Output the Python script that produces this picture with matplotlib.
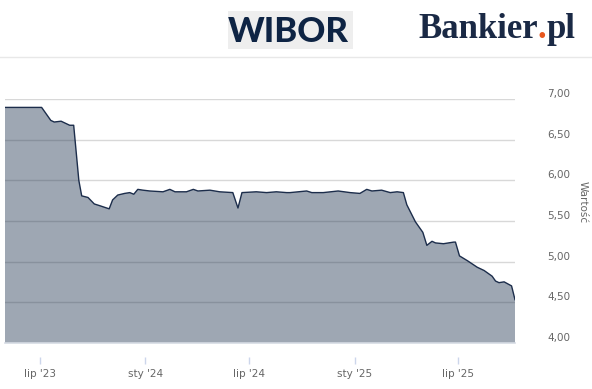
import matplotlib
matplotlib.use("Agg")
import matplotlib.pyplot as plt
from matplotlib.patches import Rectangle
from matplotlib.lines import Line2D
from matplotlib.transforms import ScaledTranslation
import pandas as pd

# WIBOR values
dates = ["2023-05-01", "2023-07-04", "2023-07-20", "2023-07-26", "2023-08-07", "2023-08-16",
         "2023-08-22", "2023-08-29", "2023-09-07", "2023-09-12", "2023-09-23", "2023-10-04",
         "2023-10-13", "2023-10-30", "2023-11-05", "2023-11-14", "2023-11-26", "2023-12-05",
         "2023-12-12", "2023-12-19", "2023-12-28", "2024-01-09", "2024-02-01", "2024-02-13",
         "2024-02-22", "2024-03-13", "2024-03-25", "2024-04-02", "2024-04-23", "2024-05-10",
         "2024-06-02", "2024-06-11", "2024-06-18", "2024-07-13", "2024-07-31", "2024-08-17",
         "2024-09-04", "2024-09-10", "2024-10-09", "2024-10-18", "2024-11-07", "2024-12-03",
         "2024-12-24", "2025-01-10", "2025-01-22", "2025-01-31", "2025-02-17", "2025-03-04",
         "2025-03-16", "2025-03-27", "2025-04-02", "2025-04-17", "2025-04-30", "2025-05-07",
         "2025-05-16", "2025-05-22", "2025-06-05", "2025-06-23", "2025-06-26", "2025-07-03",
         "2025-07-17", "2025-08-03", "2025-08-15", "2025-08-29", "2025-09-04", "2025-09-10",
         "2025-09-19", "2025-10-02", "2025-10-08"]
values = [6.90, 6.90, 6.74, 6.72, 6.73, 6.70,
          6.68, 6.68, 6.00, 5.81, 5.79, 5.71,
          5.69, 5.65, 5.76, 5.82, 5.84, 5.85,
          5.83, 5.89, 5.88, 5.87, 5.86, 5.89,
          5.86, 5.86, 5.89, 5.87, 5.88, 5.86,
          5.85, 5.66, 5.85, 5.86, 5.85, 5.86,
          5.85, 5.85, 5.87, 5.85, 5.85, 5.87,
          5.85, 5.84, 5.89, 5.87, 5.88, 5.85,
          5.86, 5.85, 5.70, 5.49, 5.36, 5.20,
          5.25, 5.23, 5.22, 5.24, 5.24, 5.07,
          5.01, 4.93, 4.89, 4.82, 4.76, 4.74,
          4.75, 4.70, 4.53]

x_ticks = ["2023-07-01", "2024-01-01", "2024-07-01", "2025-01-01", "2025-07-01"]
x_tick_labels = ["lip '23", "sty '24", "lip '24", "sty '25", "lip '25"]
y_ticks = [4.0, 4.5, 5.0, 5.5, 6.0, 6.5, 7.0]
y_tick_labels = ["4,00", "4,50", "5,00", "5,50", "6,00", "6,50", "7,00"]

W, H = 592, 389
x = pd.to_datetime(dates)

fig = plt.figure(figsize=(W / 100, H / 100), dpi=100)
ax = fig.add_axes([5 / W, 1 - 342.7 / H, 510 / W, 243.4 / H])

ax.fill_between(x, values, 0, color="#223752", alpha=0.44, lw=0, zorder=1)
ax.plot(x, values, color="#1c2d4b", lw=1.0, zorder=2)

ax.set_xlim(pd.Timestamp("2023-05-01"), pd.Timestamp("2025-10-08"))
ax.set_ylim(4.0, 7.0)

ax.set_axisbelow(True)
ax.grid(axis="y", color="#d8d8d8", lw=1)
ax.set_yticks(y_ticks)
ax.set_yticklabels(y_tick_labels)
ax.yaxis.tick_right()
ax.tick_params(axis="y", length=0, pad=23, labelsize=7.5, labelcolor="#666666")
for lab in ax.get_yticklabels():
    lab.set_transform(lab.get_transform() + ScaledTranslation(0, 6 / 100, fig.dpi_scale_trans))

ax.set_xticks(pd.to_datetime(x_ticks))
ax.set_xticklabels(x_tick_labels)
ax.tick_params(axis="x", length=5, width=1, color="#ccd6eb", pad=4,
               labelsize=7.5, labelcolor="#666666")

for s in ["top", "left", "right", "bottom"]:
    ax.spines[s].set_visible(False)
ax.spines["bottom"].set_position(("outward", 10))
ax.axhline(4.0, color="#d6dbe4", lw=1.2, clip_on=False, zorder=3)

fig.text(583 / W, 1 - 202 / H, "Wartość", rotation=270, ha="center", va="center",
         fontsize=7.5, color="#666666")

# header
fig.add_artist(Line2D([0, 1], [1 - 57.3 / H] * 2, transform=fig.transFigure,
                      color="#e8e8e8", lw=1))
fig.add_artist(Rectangle((228.3 / W, 1 - 49.3 / H), 124.4 / W, 38.3 / H,
                         transform=fig.transFigure, color="#eeeeee", lw=0))
fig.text(288.7 / W, 1 - 42.3 / H, "WIBOR", ha="center", va="baseline",
         fontsize=25, fontweight="black", family="Lato", color="#0e2444")

# logo in three pieces, kept tight but not overlapping
navy = "#1a2945"
logo_kw = dict(ha="left", va="baseline", fontsize=25, fontweight="bold",
               family="Liberation Serif")
x0, yb = 418, 1 - 38.3 / H
r = fig.canvas.get_renderer()


def width(s):
    t = fig.text(0, 0, s, **logo_kw)
    w = t.get_window_extent(r).width
    t.remove()
    return w


dot_x = max(x0 + width("Bankier.") - width("."), x0 + width("Bankier") + 0.2)
pl_x = max(x0 + width("Bankier.pl") - width("pl"), dot_x + width(".") + 0.2)
fig.text(x0 / W, yb, "Bankier", color=navy, **logo_kw)
fig.text(dot_x / W, yb, ".", color="#e8571e", **logo_kw)
fig.text(pl_x / W, yb, "pl", color=navy, **logo_kw)

fig.savefig("out.png", dpi=100)
